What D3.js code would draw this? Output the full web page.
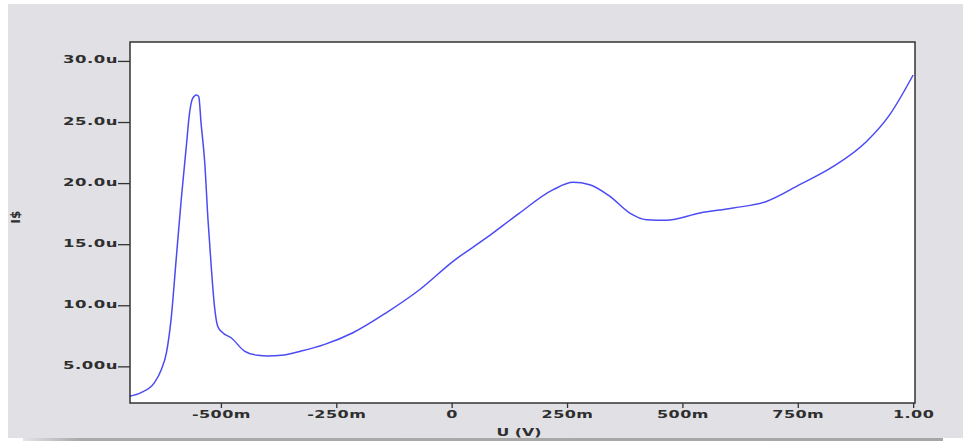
<!DOCTYPE html>
<html>
<head>
<meta charset="utf-8">
<script src="https://cdn.jsdelivr.net/npm/d3@7"></script>
<style>
  html, body { margin: 0; padding: 0; background: #ffffff; }
  svg { display: block; }
  .lbl { font-family: "DejaVu Sans", sans-serif; font-weight: bold; fill: #2e2e2e; }
</style>
</head>
<body>
<svg id="chart" width="963" height="442"></svg>
<script>
// Sweep voltage (V) and measured current (µA)
const voltage = [-0.698, -0.673, -0.644, -0.629, -0.618, -0.608, -0.597, -0.586, -0.575, -0.568,
  -0.561, -0.553, -0.548, -0.543, -0.535, -0.528, -0.521, -0.514, -0.507, -0.496,
  -0.478, -0.449, -0.420, -0.398, -0.369, -0.326, -0.275, -0.214, -0.142, -0.069,
  0.003, 0.075, 0.147, 0.220, 0.263, 0.299, 0.343, 0.386, 0.422, 0.465,
  0.538, 0.610, 0.682, 0.754, 0.827, 0.899, 0.949, 1.000];
const current = [2.55, 2.85, 3.67, 4.75, 6.12, 8.84, 13.74, 18.64, 23.0, 25.72,
  26.95, 27.22, 27.08, 24.91, 21.64, 17.01, 13.19, 9.93, 8.29, 7.75,
  7.34, 6.25, 5.9, 5.84, 5.9, 6.25, 6.8, 7.75, 9.38, 11.29,
  13.6, 15.51, 17.55, 19.46, 20.06, 19.87, 18.91, 17.55, 17.01, 16.95,
  17.55, 17.96, 18.5, 19.87, 21.36, 23.41, 25.59, 28.85];

const xTicks = [-0.5, -0.25, 0, 0.25, 0.5, 0.75, 1.0];
const xTickLabels = ["-500m", "-250m", "0", "250m", "500m", "750m", "1.00"];
const yTicks = [5, 10, 15, 20, 25, 30];
const yTickLabels = ["5.00u", "10.0u", "15.0u", "20.0u", "25.0u", "30.0u"];
const xTitle = "U (V)";
const yTitle = "I$";

const svg = d3.select("#chart");
const plot = { left: 130, top: 42, right: 915, bottom: 403 };

// window background and bottom shadow bar
const defs = svg.append("defs");
const grad = defs.append("linearGradient").attr("id", "shade").attr("x1", 0).attr("x2", 1);
grad.append("stop").attr("offset", "0").attr("stop-color", "#e4e4e8");
grad.append("stop").attr("offset", "0.06").attr("stop-color", "#aaaaaa");
grad.append("stop").attr("offset", "1").attr("stop-color", "#a6a6a6");

svg.append("rect").attr("x", 8).attr("y", 4).attr("width", 955).attr("height", 434)
  .attr("fill", "#e0e0e5");
svg.append("rect").attr("x", 23).attr("y", 438).attr("width", 920).attr("height", 3)
  .attr("fill", "url(#shade)");

const x = d3.scaleLinear().domain([-0.697, 1.004]).range([plot.left, plot.right]);
const y = d3.scaleLinear().domain([2.0, 31.55]).range([plot.bottom, plot.top]);

svg.append("rect").attr("x", plot.left).attr("y", plot.top)
  .attr("width", plot.right - plot.left).attr("height", plot.bottom - plot.top)
  .attr("fill", "#ffffff");

// y axis: ticks point left, labels sit on the tick line
const yAxis = svg.append("g").attr("transform", `translate(${plot.left},0)`)
  .call(d3.axisLeft(y).tickValues(yTicks).tickSize(12).tickFormat((d, i) => yTickLabels[i]));
yAxis.select(".domain").remove();
yAxis.selectAll(".tick line").attr("stroke", "#333").attr("stroke-width", 1.3);
yAxis.selectAll(".tick text")
  .attr("class", "lbl").attr("font-size", 10).attr("x", null).attr("dy", null)
  .attr("text-anchor", "end")
  .attr("transform", "translate(-12,2) scale(1.65,1)")
  .style("letter-spacing", "0.3px");

// x axis: short ticks below the frame
const xAxis = svg.append("g").attr("transform", `translate(0,${plot.bottom})`)
  .call(d3.axisBottom(x).tickValues(xTicks).tickSize(5).tickFormat((d, i) => xTickLabels[i]));
xAxis.select(".domain").remove();
xAxis.selectAll(".tick line").attr("stroke", "#333").attr("stroke-width", 1.3);
xAxis.selectAll(".tick text")
  .attr("class", "lbl").attr("font-size", 10).attr("y", null).attr("dy", null)
  .attr("text-anchor", "middle")
  .attr("transform", "translate(0,15) scale(1.6,1)")
  .style("letter-spacing", "0.3px");

// current trace
const line = d3.line()
  .x((d, i) => x(voltage[i]))
  .y(d => y(d))
  .curve(d3.curveMonotoneX);
svg.append("path").datum(current)
  .attr("d", line)
  .attr("fill", "none")
  .attr("stroke", "#4b4bf4")
  .attr("stroke-width", 1.5)
  .attr("stroke-linejoin", "round");

// frame
svg.append("rect").attr("x", plot.left).attr("y", plot.top)
  .attr("width", plot.right - plot.left).attr("height", plot.bottom - plot.top)
  .attr("fill", "none").attr("stroke", "#333").attr("stroke-width", 1.5);

// axis titles
svg.append("text").attr("class", "lbl").attr("font-size", 10.5)
  .attr("text-anchor", "middle")
  .attr("transform", "translate(519,436) scale(1.5,1)")
  .text(xTitle);
svg.append("text").attr("class", "lbl").attr("font-size", 12)
  .attr("text-anchor", "middle")
  .attr("transform", "translate(20,217) rotate(-90)")
  .text(yTitle);
</script>
</body>
</html>
